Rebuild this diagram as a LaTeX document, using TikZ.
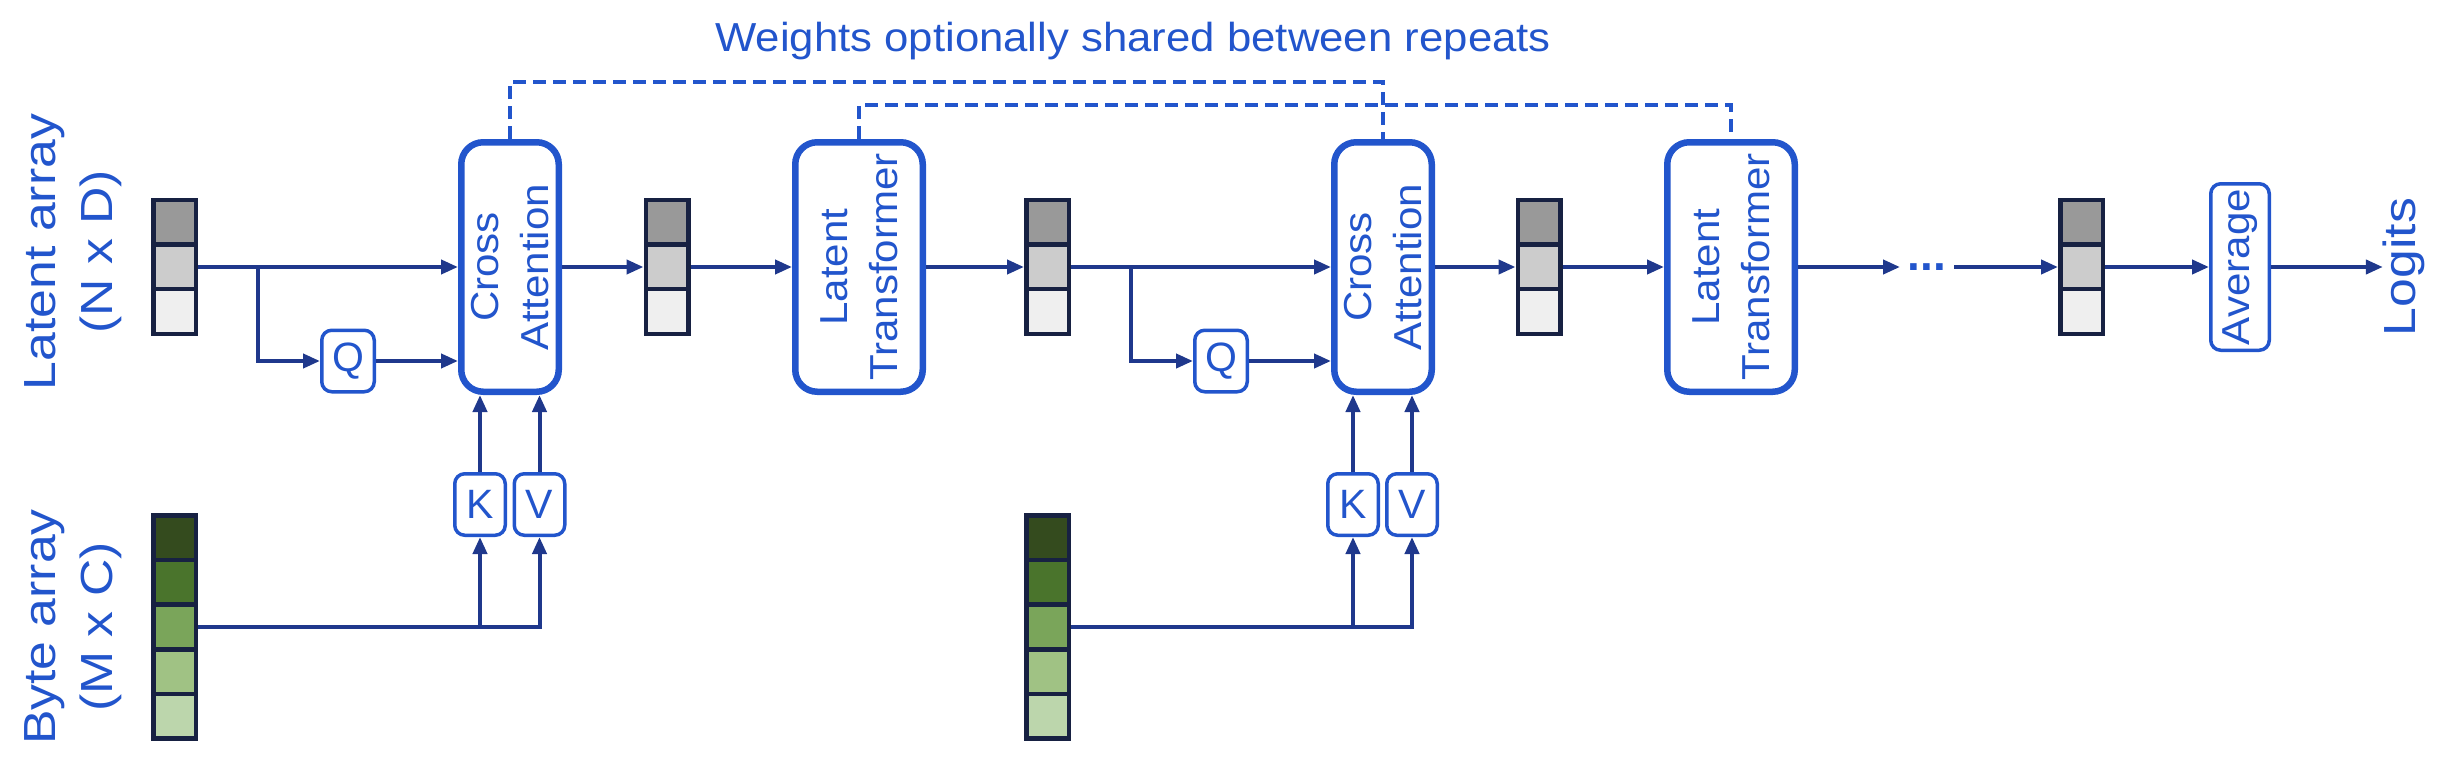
\documentclass[tikz,border=0pt]{standalone}
\usepackage{fontspec}
\setmainfont{Liberation Sans}
\newfontfamily\widefont{Liberation Sans}[FakeStretch=1.15]
\newfontfamily\midfont{Liberation Sans}[FakeStretch=1.08]
\usetikzlibrary{arrows.meta}
\definecolor{bblue}{RGB}{34,85,204}
\definecolor{anavy}{RGB}{31,56,140}
\definecolor{cdark}{RGB}{23,33,66}
\definecolor{gra}{RGB}{153,153,153}
\definecolor{grb}{RGB}{204,204,204}
\definecolor{grc}{RGB}{239,239,239}
\definecolor{gna}{RGB}{52,75,30}
\definecolor{gnb}{RGB}{74,116,44}
\definecolor{gnc}{RGB}{122,165,90}
\definecolor{gnd}{RGB}{160,194,132}
\definecolor{gne}{RGB}{188,214,172}
\newcommand\latentblk[2]{%
  \node[cell,fill=gra] (#1a) at (#2,222.5) {};
  \node[cell,fill=grb] (#1) at (#2,267) {};
  \node[cell,fill=grc] (#1c) at (#2,311.5) {};}
\newcommand\bytesblk[2]{%
  \node[cell,fill=gna] (#1a) at (#2,537.8) {};
  \node[cell,fill=gnb] (#1b) at (#2,582.4) {};
  \node[cell,fill=gnc] (#1) at (#2,627) {};
  \node[cell,fill=gnd] (#1d) at (#2,671.6) {};
  \node[cell,fill=gne] (#1e) at (#2,716.2) {};}
\begin{document}
\begin{tikzpicture}[x=1pt,y=-1pt,
  cell/.style={draw=cdark, line width=4.5pt, minimum width=42.5pt, minimum height=44.6pt, inner sep=0pt},
  bigbox/.style={draw=bblue, line width=6.5pt, rounded corners=22pt, fill=white, minimum height=249.5pt, inner sep=0pt},
  smallbox/.style={draw=bblue, line width=3.5pt, rounded corners=10pt, fill=white, minimum width=50.5pt, minimum height=61.5pt, inner sep=0pt, text=bblue, font=\fontsize{41}{50}\selectfont},
  boxtext/.style={rotate=90, align=center, text=bblue, font=\midfont\fontsize{39}{50}\selectfont, inner sep=0pt},
  sidelabel/.style={rotate=90, align=center, text=bblue, font=\widefont\fontsize{45}{57}\selectfont, inner sep=0pt},
  arr/.style={draw=anavy, line width=4pt, -{Triangle[length=17pt,width=14pt]}},
  share/.style={draw=bblue, line width=3.5pt, dash pattern=on 13pt off 7pt},
]
\useasboundingbox (0,0) rectangle (2444,760);

% title
\node[text=bblue, font=\midfont\fontsize{40.5}{50}\selectfont, anchor=base, inner sep=0pt] (title) at (1133,52) {Weights optionally shared between repeats};

% side labels
\node[sidelabel] (latlab) at (73,252) {Latent array\\(N x D)};
\node[sidelabel] (bytelab) at (73,627) {Byte array\\(M x C)};

% latent and byte arrays
\latentblk{lbA}{174.5}
\latentblk{lbB}{667}
\latentblk{lbC}{1047.5}
\latentblk{lbD}{1539}
\latentblk{lbE}{2081.5}
\bytesblk{bbA}{174.5}
\bytesblk{bbB}{1047.5}

% big boxes
\node[bigbox, minimum width=97.5pt] (caA) at (510,267) {};
\node[boxtext] (caAt) at (caA.center) {Cross\\Attention};
\node[bigbox, minimum width=127.5pt] (ltA) at (859,267) {};
\node[boxtext] (ltAt) at (ltA.center) {Latent\\Transformer};
\node[bigbox, minimum width=97.5pt] (caB) at (1383,267) {};
\node[boxtext] (caBt) at (caB.center) {Cross\\Attention};
\node[bigbox, minimum width=127.5pt] (ltB) at (1731,267) {};
\node[boxtext] (ltBt) at (ltB.center) {Latent\\Transformer};

% small boxes
\node[smallbox, minimum width=52.5pt] (qA) at (348,361) {Q};
\node[smallbox] (kA) at (480,504.5) {K};
\node[smallbox] (vA) at (539.5,504.5) {V};
\node[smallbox, minimum width=52.5pt] (qB) at (1221,361) {Q};
\node[smallbox] (kB) at (1353,504.5) {K};
\node[smallbox] (vB) at (1412,504.5) {V};

% average and logits
\node[draw=bblue, line width=3.5pt, rounded corners=10pt, fill=white, minimum width=58.5pt, minimum height=166.5pt, inner sep=0pt] (avg) at (2240,267) {};
\node[boxtext] (avgt) at (avg.center) {Average};
\node[sidelabel] (logits) at (2404,267) {Logits};

% dots
\node[text=bblue, font=\fontsize{46}{50}\selectfont\bfseries, anchor=base, inner sep=0pt] (dots) at (1927,270.5) {...};
\coordinate (dl) at (1900,267);
\coordinate (dr) at (1954,267);

% weight sharing dashed lines
\coordinate (topA) at (900,82);
\coordinate (topB) at (1300,105);
\draw[share] (caA.north) |- (topA) -| (caB.north);
\draw[share] (ltA.north) |- (topB) -| (ltB.north);

% first block connectors
\coordinate (brA) at (258,267);
\draw[arr] (lbA) -- (caA);
\draw[arr] (brA) |- (qA);
\draw[arr] (qA.east) -- (qA.east -| caA.west);
\draw[arr] (bbA) -| (vA);
\draw[arr] (bbA -| kA) -- (kA);
\draw[arr] (kA) -- (kA |- caA.south);
\draw[arr] (vA) -- (vA |- caA.south);
\draw[arr] (caA) -- (lbB);
\draw[arr] (lbB) -- (ltA);
\draw[arr] (ltA) -- (lbC);

% second block connectors
\coordinate (brB) at (1131,267);
\draw[arr] (lbC) -- (caB);
\draw[arr] (brB) |- (qB);
\draw[arr] (qB.east) -- (qB.east -| caB.west);
\draw[arr] (bbB) -| (vB);
\draw[arr] (bbB -| kB) -- (kB);
\draw[arr] (kB) -- (kB |- caB.south);
\draw[arr] (vB) -- (vB |- caB.south);
\draw[arr] (caB) -- (lbD);
\draw[arr] (lbD) -- (ltB);

% tail
\draw[arr] (ltB) -- (dl);
\draw[arr] (dr) -- (lbE);
\draw[arr] (lbE) -- (avg);
\draw[arr] (avg) -- (logits);
\end{tikzpicture}
\end{document}
